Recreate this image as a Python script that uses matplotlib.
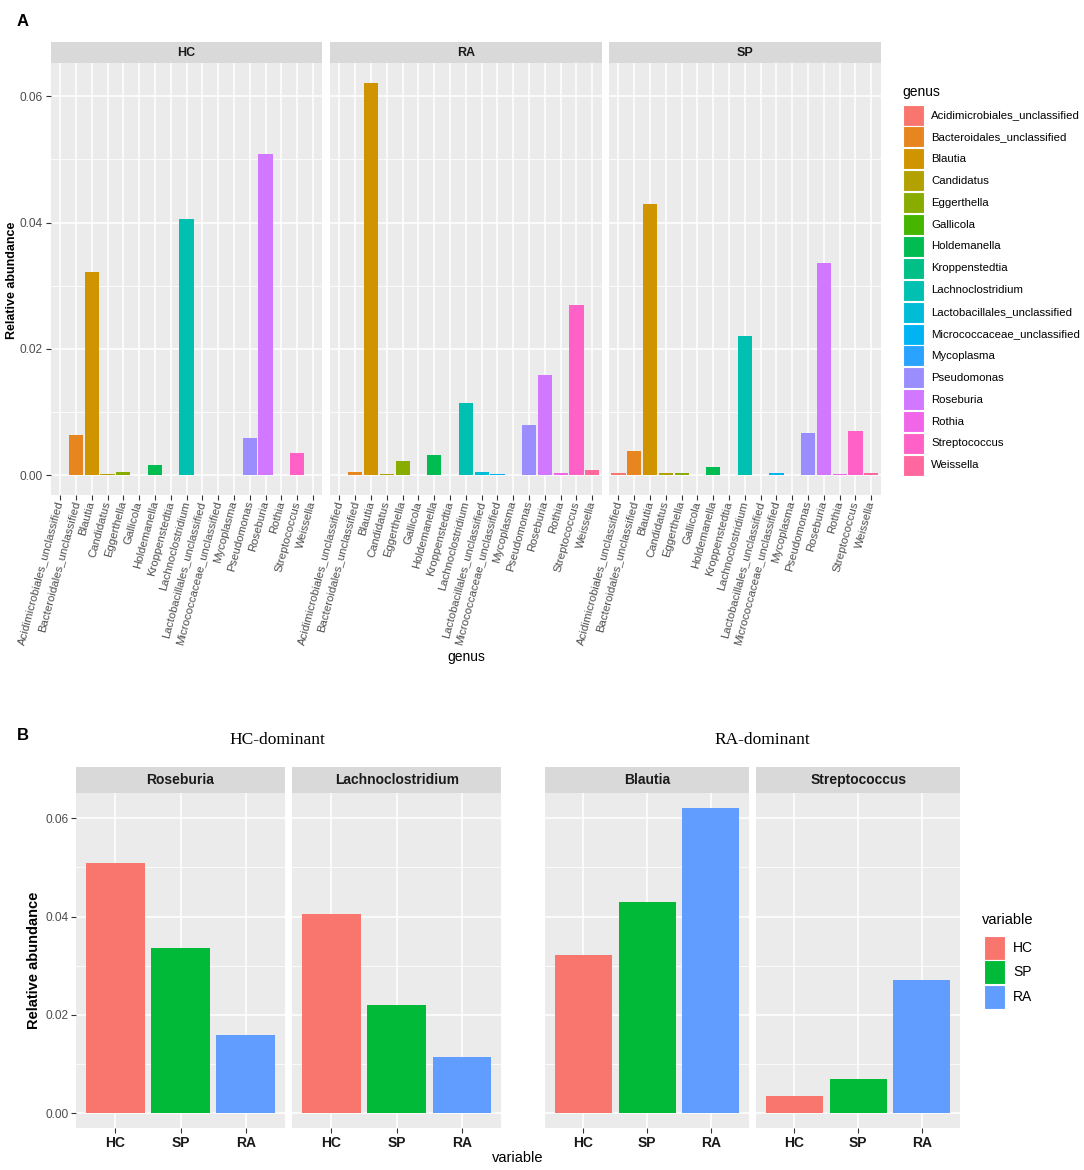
import numpy as np
import matplotlib.pyplot as plt
from matplotlib.patches import Rectangle

plt.rcParams["font.family"] = ["Liberation Sans", "DejaVu Sans"]

# ---- data ----
genera = ["Acidimicrobiales_unclassified", "Bacteroidales_unclassified", "Blautia", "Candidatus",
          "Eggerthella", "Gallicola", "Holdemanella", "Kroppenstedtia", "Lachnoclostridium",
          "Lactobacillales_unclassified", "Micrococcaceae_unclassified", "Mycoplasma", "Pseudomonas",
          "Roseburia", "Rothia", "Streptococcus", "Weissella"]
hc = [0.0001, 0.0064, 0.0322, 0.0002, 0.0006, 0.0, 0.0017, 0.0, 0.0405,
      0.0001, 0.0001, 0.00005, 0.0059, 0.0508, 0.0001, 0.0035, 0.0]
ra = [0.0001, 0.0005, 0.0621, 0.0002, 0.0022, 0.0, 0.0032, 0.0, 0.0114,
      0.0005, 0.00015, 0.0, 0.0080, 0.0159, 0.0004, 0.0270, 0.0008]
sp = [0.0003, 0.0039, 0.0429, 0.0003, 0.0003, 0.0, 0.0014, 0.0, 0.0220,
      0.00005, 0.0003, 0.0, 0.0067, 0.0336, 0.0002, 0.0070, 0.0003]
groups_A = ["HC", "RA", "SP"]
groups_B = ["HC", "SP", "RA"]
hc_dominant = ["Roseburia", "Lachnoclostridium"]
ra_dominant = ["Blautia", "Streptococcus"]
yticks = [0.00, 0.02, 0.04, 0.06]
yminor = [0.01, 0.03, 0.05]
abund = {"HC": hc, "RA": ra, "SP": sp}

W, H = 1084, 1170
fig = plt.figure(figsize=(W / 100, H / 100), dpi=100)


def hue_pal(n, c=100.0, l=65.0):  # ggplot2 default hue palette (hcl -> sRGB)
    h = np.deg2rad(np.linspace(15, 375, n + 1)[:-1])
    u, v = c * np.cos(h), c * np.sin(h)
    Xn, Yn, Zn = 95.047, 100.0, 108.883
    un = 4 * Xn / (Xn + 15 * Yn + 3 * Zn); vn = 9 * Yn / (Xn + 15 * Yn + 3 * Zn)
    Y = Yn * ((l + 16) / 116) ** 3
    up = u / (13 * l) + un; vp = v / (13 * l) + vn
    X = Y * 9 * up / (4 * vp); Z = Y * (12 - 3 * up - 20 * vp) / (4 * vp)
    M = np.array([[3.2404542, -1.5371385, -0.4985314],
                  [-0.9692660, 1.8760108, 0.0415560],
                  [0.0556434, -0.2040259, 1.0572252]])
    rgb = M @ np.vstack([X, np.full_like(X, Y), Z]) / 100
    rgb = np.clip(rgb, 0, 1)
    rgb = np.where(rgb <= 0.0031308, 12.92 * rgb, 1.055 * rgb ** (1 / 2.4) - 0.055)
    return [tuple(np.clip(cc, 0, 1)) for cc in rgb.T]


def px_axes(l, t, r, b):
    return fig.add_axes([l / W, 1 - b / H, (r - l) / W, (b - t) / H])


def strip(l, r, t, b, txt, size):
    s = px_axes(l, t, r, b)
    s.set_facecolor("#D9D9D9"); s.set_xticks([]); s.set_yticks([])
    for sp_ in s.spines.values(): sp_.set_visible(False)
    s.text(0.5, 0.5, txt, ha="center", va="center", fontweight="bold", fontsize=size, color="#1A1A1A")


def style_panel(ax, ncat, ymax, show_y):
    ax.set_facecolor("#EBEBEB")
    ax.set_xlim(-0.6, ncat - 1 + 0.6)
    ax.set_ylim(-0.05 * ymax, 1.05 * ymax)
    ax.set_yticks(yticks); ax.set_yticks(yminor, minor=True)
    ax.set_yticklabels([f"{t:.2f}" for t in yticks])
    ax.grid(which="major", color="white", lw=1.1)
    ax.grid(which="minor", axis="y", color="white", lw=0.55)
    ax.set_axisbelow(True)
    for sp_ in ax.spines.values(): sp_.set_visible(False)
    ax.tick_params(which="minor", length=0)
    ax.tick_params(which="major", length=3.5, width=0.8, color="#333333", labelcolor="#4D4D4D", labelsize=8.6, pad=2)
    if not show_y:
        ax.tick_params(axis="y", which="both", left=False, labelleft=False)


cols17 = hue_pal(len(genera))
cols3 = hue_pal(3)
col_B = {"HC": cols3[0], "SP": cols3[1], "RA": cols3[2]}

# ---------------- panel A ----------------
ymaxA = max(max(v) for v in abund.values())
leftsA = [50.7, 330.0, 609.0]; widthA = 271.7
x = np.arange(len(genera))
for i, g in enumerate(groups_A):
    l = leftsA[i]; r = l + widthA
    strip(l, r, 41.7, 63.3, g, 9)
    ax = px_axes(l, 63.3, r, 495)
    style_panel(ax, len(genera), ymaxA, i == 0)
    ax.bar(x, abund[g], width=0.9, color=cols17, zorder=3)
    ax.set_xticks(x)
    ax.set_xticklabels(genera, rotation=75, ha="right", va="center", rotation_mode="anchor", fontsize=8.2)
    ax.tick_params(axis="x", pad=1)

# ---------------- panel B ----------------
ymaxB = max(abund[v][genera.index(g)] for g in hc_dominant + ra_dominant for v in groups_B)
panelsB = [(76.0, 285.0), (292.3, 501.0), (545.3, 749.0), (756.3, 960.0)]
xb = np.arange(len(groups_B))
for k, g in enumerate(hc_dominant + ra_dominant):
    l, r = panelsB[k]
    strip(l, r, 767.3, 792.7, g, 10)
    ax = px_axes(l, 792.7, r, 1128.3)
    style_panel(ax, len(groups_B), ymaxB, k == 0)
    vals = [abund[v][genera.index(g)] for v in groups_B]
    ax.bar(xb, vals, width=0.9, color=[col_B[v] for v in groups_B], zorder=3)
    ax.set_xticks(xb)
    ax.set_xticklabels(groups_B, fontsize=10, fontweight="bold", color="#1A1A1A")

# ---------------- overlay texts / legends ----------------
ov = fig.add_axes([0, 0, 1, 1]); ov.set_xlim(0, W); ov.set_ylim(H, 0); ov.axis("off")
ov.text(17, 22, "A", fontsize=12, fontweight="bold", va="center", ha="left")
ov.text(17, 736, "B", fontsize=12, fontweight="bold", va="center", ha="left")
ov.text(12, 280, "Relative abundance", rotation=90, fontsize=9, fontweight="bold", ha="center", va="center")
ov.text(34, 960, "Relative abundance", rotation=90, fontsize=10.5, fontweight="bold", ha="center", va="center")
ov.text(466, 657, "genus", fontsize=10, ha="center", va="center")
ov.text(518, 1158, "variable", fontsize=10.5, ha="center", va="center")
ov.text(277, 740, "HC-dominant", fontsize=12.5, family="Liberation Serif", ha="center", va="center")
ov.text(762, 740, "RA-dominant", fontsize=12.5, family="Liberation Serif", ha="center", va="center")

ov.text(902, 92, "genus", fontsize=10, ha="left", va="center")
for i, g in enumerate(genera):
    yc = 115 + i * 21.9
    ov.add_patch(Rectangle((903, yc - 10.5), 20.5, 21, facecolor=cols17[i], edgecolor="white", lw=0.8))
    ov.text(931, yc, g, fontsize=8.2, ha="left", va="center")

ov.text(982, 920, "variable", fontsize=10.5, ha="left", va="center")
for i, v in enumerate(groups_B):
    yc = 947.5 + i * 24.7
    ov.add_patch(Rectangle((983.5, yc - 12), 21, 24, facecolor=col_B[v], edgecolor="white", lw=0.8))
    ov.text(1013, yc, v, fontsize=10, ha="left", va="center")

fig.savefig("out.png", dpi=100)
